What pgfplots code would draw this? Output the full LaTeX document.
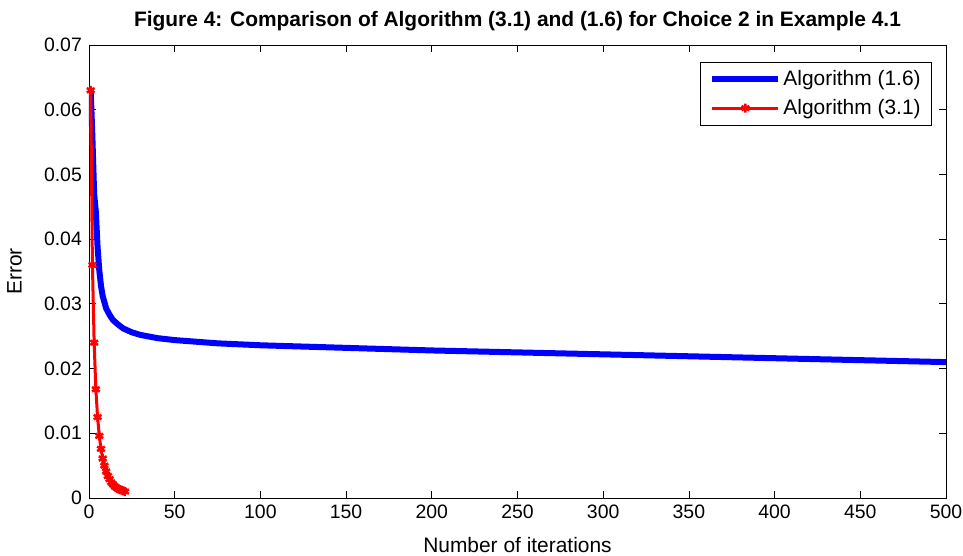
\documentclass[border=0pt]{standalone}
\usepackage{fontspec}
\setmainfont{Liberation Sans}
\usepackage{pgfplots}
\pgfplotsset{compat=1.18}
\begin{document}
\fontsize{18}{21}\selectfont
\begin{tikzpicture}
\useasboundingbox (-89bp,-58bp) rectangle (874bp,498bp);
\begin{axis}[
  at={(0,0)}, anchor=south west,
  scale only axis, width=857bp, height=453bp,
  xmin=0, xmax=500, ymin=0, ymax=0.07,
  xtick={0,50,...,500},
  ytick={0,0.01,0.02,0.03,0.04,0.05,0.06,0.07},
  yticklabels={0,0.01,0.02,0.03,0.04,0.05,0.06,0.07},
  scaled y ticks=false,
  tick align=inside, tick pos=both,
  major tick length=7bp,
  /pgf/number format/assume math mode=true,
  tick label style={font=\fontsize{19.5}{22}\selectfont},
  xticklabel style={yshift=-1bp},
  yticklabel style={xshift=-1bp},
  xlabel={Number of iterations},
  ylabel={Error},
  xlabel style={font=\fontsize{21}{24}\selectfont, yshift=-6bp},
  ylabel style={font=\fontsize{21}{24}\selectfont, yshift=10bp},
  title={\bfseries Figure 4: Comparison of Algorithm (3.1) and (1.6) for Choice 2 in Example 4.1},
  title style={font=\fontsize{21}{24}\selectfont, yshift=2bp},
  legend style={at={(0.9837,0.9625)}, anchor=north east, draw=black, line width=0.8bp,
    font=\fontsize{21}{24}\selectfont, inner xsep=9bp, inner ysep=6bp, row sep=7bp},
  legend cell align=left,
  legend image code/.code={\draw[mark repeat=2,mark phase=2,#1] plot coordinates {(0bp,0bp) (33bp,0bp) (66bp,0bp)};},
  axis line style={line width=0.8bp},
  every tick/.style={black, line width=0.8bp},
]
\addplot[blue, line width=6bp, line join=miter] coordinates {
(1,0.063) (2,0.0556) (3,0.047) (4,0.0442) (5,0.0388) (6,0.0352) (7,0.0328) (8,0.0312)
(10,0.0293) (12,0.0283) (14,0.0275) (17,0.0268) (20,0.0262) (25,0.0256) (30,0.0252)
(40,0.0247) (50,0.0244) (75,0.0239) (100,0.0236) (150,0.0232) (200,0.0228)
(250,0.0225) (300,0.0222) (350,0.0219) (400,0.0216) (450,0.0213) (500,0.0210)
};
\addlegendentry{Algorithm (1.6)}
\addplot[red, line width=3bp, mark=asterisk, mark size=4.5bp, mark options={line width=2.5bp}] coordinates {
(1,0.063) (2,0.036) (3,0.024) (4,0.0168) (5,0.0125) (6,0.0096) (7,0.0076) (8,0.0061)
(9,0.0050) (10,0.0041) (11,0.0034) (12,0.0029) (13,0.0024) (14,0.0021) (15,0.0018)
(16,0.0016) (17,0.0014) (18,0.0013) (19,0.0012) (20,0.0011) (21,0.0010)
};
\addlegendentry{Algorithm (3.1)}
\end{axis}
\end{tikzpicture}
\end{document}
